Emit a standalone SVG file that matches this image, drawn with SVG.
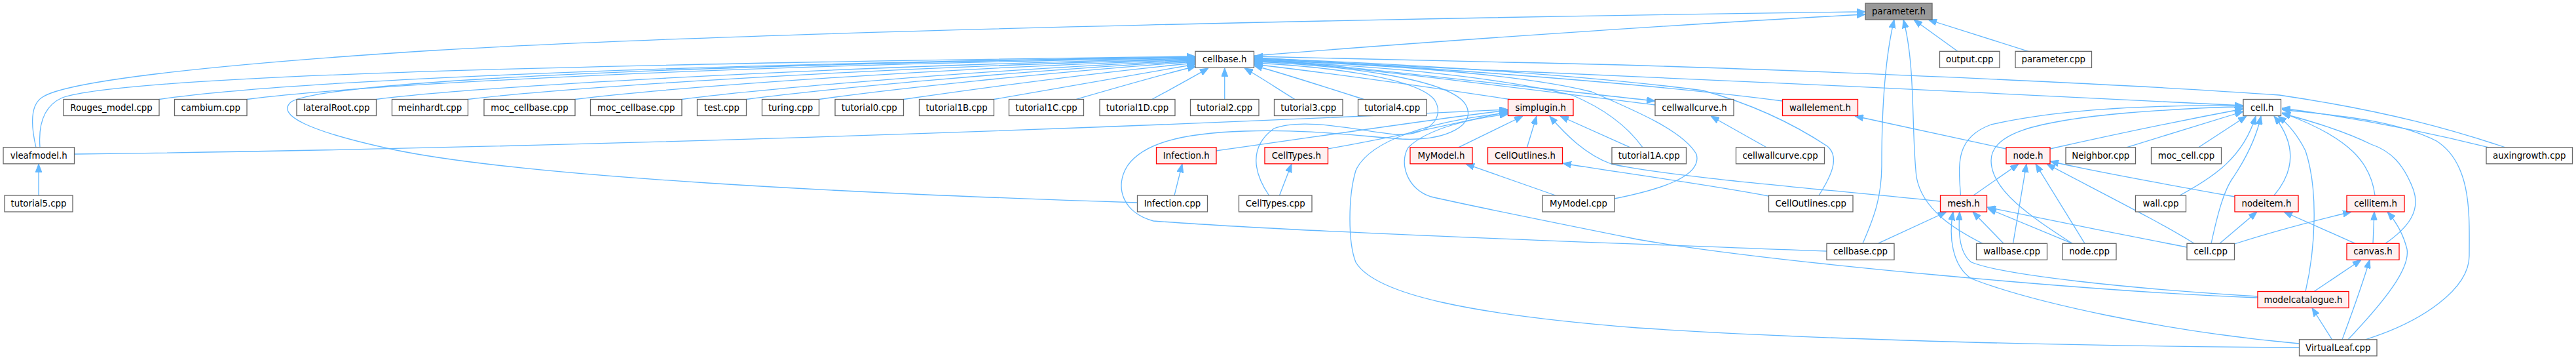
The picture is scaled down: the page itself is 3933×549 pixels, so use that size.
<svg xmlns="http://www.w3.org/2000/svg" width="3933" height="549" viewBox="0 0 3933 549">
<style>
.n rect{fill:#ffffff;stroke:#666666;stroke-width:1.3}
.r rect{fill:#fff0f0;stroke:#ff0000;stroke-width:1.3}
.root rect{fill:#999999;stroke:#666666;stroke-width:1.3}
text{font-family:"DejaVu Sans","Liberation Sans",sans-serif;font-size:13.33px;fill:#000;text-anchor:middle}
#edges path{fill:none;stroke:#63b8ff;stroke-width:1.3;marker-end:url(#a)}
</style>
<defs>
<marker id="a" viewBox="0 0 13 10" refX="13" refY="5" markerUnits="userSpaceOnUse" markerWidth="13" markerHeight="10" orient="auto">
<path d="M0,0 L13,5 L0,10 z" fill="#63b8ff" stroke="#63b8ff" stroke-width="1"/>
</marker>
</defs>
<rect width="3933" height="549" fill="#ffffff"/>
<g id="edges">
<path d="M1914.5,85 C2250,58 2650,32 2848,22"/>
<path d="M55,224.8 C48,195 45,160 65,148 C100,125 300,100 660,77 C1200,45 2300,25 2848,18"/>
<path d="M2989,78.3 L2922,30"/>
<path d="M3097,78.3 L2944,30"/>
<path d="M2844,371.3 C2862,330 2873,300 2873,250 C2873,150 2880,80 2892,30"/>
<path d="M3027,371.3 C2985,350 2935,320 2926,270 C2918,200 2925,100 2906,30"/>
<path d="M243,151.5 C400,128 900,100 1825,87"/>
<path d="M377,151.5 C520,133 1000,102 1825,88"/>
<path d="M574.5,151.5 C700,135 1200,103 1825,89"/>
<path d="M714.4,151.5 C850,135 1300,104 1825,90"/>
<path d="M878,151.5 C1000,136 1400,105 1825,91"/>
<path d="M1041,151.5 C1150,137 1500,106 1825,92"/>
<path d="M1139.5,151.5 C1250,137 1550,108 1825,93"/>
<path d="M1250.5,151.5 C1350,137 1600,110 1825,94"/>
<path d="M1379.5,151.5 C1480,137 1650,113 1825,96"/>
<path d="M1517.5,151.5 C1600,138 1710,118 1825,98"/>
<path d="M1643,151.5 C1700,135 1765,116 1826,101"/>
<path d="M1758.8,151.5 C1790,135 1820,118 1845,104"/>
<path d="M1869.75,151.5 L1869.75,103.8"/>
<path d="M1977,151.5 C1950,135 1925,118 1900,104"/>
<path d="M61,224.8 C58,185 70,160 95,149 C180,120 700,100 1825,86"/>
<path d="M1736.5,309 C1300,295 800,270 600,228 C470,200 420,175 445,155 C500,125 1000,100 1825,87"/>
<path d="M2082.6,151.5 C2020,132 1960,112 1914.5,100"/>
<path d="M2305,151.5 C2150,128 2000,108 1914.5,98"/>
<path d="M1937.5,298 C1915,265 1905,225 1945,196 C1990,178 2080,200 2130,205 C2180,208 2208,180 2190,152 C2160,115 2000,100 1914.5,96"/>
<path d="M2789,383 C2500,372 2000,355 1761,337 C1715,325 1700,285 1722,252 C1745,220 1800,203 1900,200 C2000,197 2070,207 2140,212 C2210,215 2255,190 2238,160 C2215,120 2050,100 1914.5,94"/>
<path d="M2508,224.8 C2490,200 2460,170 2400,145 C2250,110 2050,98 1914.5,93"/>
<path d="M2464.7,303 C2530,290 2600,270 2590,235 C2570,200 2500,170 2430,140 C2300,108 2050,96 1914.5,92"/>
<path d="M2527,160 C2300,132 2050,100 1914.5,91"/>
<path d="M1914.5,89 C2100,105 2350,135 2527,154"/>
<path d="M2721.5,154 C2500,125 2100,97 1914.5,90"/>
<path d="M2777,298 C2795,270 2810,240 2790,223 C2740,190 2680,160 2600,138 C2400,112 2100,95 1914.5,89"/>
<path d="M3425,161 C3200,150 2600,120 2300,108 C2100,100 2000,92 1914.5,88"/>
<path d="M3825,224.8 C3750,200 3650,170 3480,145 C3200,125 2600,100 2300,95 C2150,92 2000,88 1914.5,86"/>
<path d="M113.6,235 C700,228 1500,205 2302.5,167"/>
<path d="M1856.8,230 C2000,210 2200,180 2302.5,168"/>
<path d="M2027.3,227 C2150,205 2250,182 2302.5,170"/>
<path d="M3510.5,530 C3200,528 2800,520 2500,500 C2250,480 2100,450 2070,400 C2058,370 2058,300 2070,260 C2090,215 2180,185 2302.5,172"/>
<path d="M3447,454 C3200,445 2700,400 2500,365 C2350,335 2250,315 2185,300 C2150,290 2135,250 2150,225 C2180,195 2250,180 2302.5,174"/>
<path d="M2962.5,307 C2800,290 2550,270 2460,250 C2420,235 2390,205 2366,177"/>
<path d="M2226.7,224.8 L2325,177"/>
<path d="M2331.5,224.8 L2346,177"/>
<path d="M2489,224.8 L2382,177"/>
<path d="M2375,298 L2238,250"/>
<path d="M2700.5,299 C2600,280 2450,260 2386,249"/>
<path d="M1793,298 L1805,250"/>
<path d="M1953.5,298 L1972,250"/>
<path d="M59,298 L59,250"/>
<path d="M2697,224.8 L2612,177"/>
<path d="M3063,227 L2832,177"/>
<path d="M3130,227 C3250,200 3350,180 3425,166"/>
<path d="M3246.7,224.8 L3425,170"/>
<path d="M3356.7,224.8 L3430,177"/>
<path d="M3328,298 C3380,270 3425,240 3444,177"/>
<path d="M3376,371.3 C3385,330 3395,290 3410,270 C3430,240 3445,210 3452,177"/>
<path d="M3472,298 C3500,265 3510,225 3472,177"/>
<path d="M3520,444.5 C3535,380 3540,290 3520,230 C3510,210 3495,190 3478,177"/>
<path d="M3626,298 C3620,250 3590,210 3484,172"/>
<path d="M3642,371.3 C3680,345 3695,320 3685,290 C3670,250 3650,230 3620,220 C3580,200 3530,185 3484,173"/>
<path d="M3611.5,517.8 C3700,490 3770,440 3770,390 C3770,330 3775,250 3720,215 C3650,180 3550,175 3484,167"/>
<path d="M3800,224.8 C3700,200 3600,180 3484,165"/>
<path d="M3389,371.3 L3446,323"/>
<path d="M3596,371.3 L3487,323"/>
<path d="M3411.6,372 C3480,350 3540,335 3590,323"/>
<path d="M3623,371.3 L3625,323"/>
<path d="M3585,517.8 C3640,460 3680,410 3675,380 C3670,360 3660,340 3645,323"/>
<path d="M3533,444.5 L3605,396.3"/>
<path d="M3576,517.8 C3590,480 3605,440 3618,396.3"/>
<path d="M3560.5,517.8 L3530,469.5"/>
<path d="M2867,371.3 L2972,323"/>
<path d="M3059,371.3 L3012,323"/>
<path d="M3164,371.3 L3035,318"/>
<path d="M3339,377 C3250,360 3100,330 3034,316"/>
<path d="M3447,452 C3250,440 3060,420 3010,400 C2990,385 2990,350 2992,323"/>
<path d="M3510.5,524 C3300,505 3100,460 3010,425 C2980,405 2975,360 2982,323"/>
<path d="M3013,298 L3082,250"/>
<path d="M3073.5,371.3 L3094,250"/>
<path d="M3183,371.3 L3108,250"/>
<path d="M3350,371.3 C3300,340 3220,300 3125,250"/>
<path d="M3412,300 C3300,280 3200,262 3130,246"/>
<path d="M2993.5,298 C2990,250 2985,210 3040,190 C3150,165 3300,160 3425,161"/>
<path d="M3164,371.3 C3100,330 3040,290 3040,245 C3040,205 3100,185 3250,172 C3330,166 3400,163 3425,163"/>
</g>
<g id="parameter_h" class="root"><rect x="2848" y="5" width="102" height="25"/><text x="2899" y="22">parameter.h</text></g>
<g id="cellbase_h" class="n"><rect x="1825" y="78.3" width="89.5" height="25"/><text x="1869.75" y="95.3">cellbase.h</text></g>
<g id="output_cpp" class="n"><rect x="2961.5" y="78.3" width="91.5" height="25"/><text x="3007.25" y="95.3">output.cpp</text></g>
<g id="parameter_cpp" class="n"><rect x="3077" y="78.3" width="116.5" height="25"/><text x="3135.25" y="95.3">parameter.cpp</text></g>
<g id="Rouges_model_cpp" class="n"><rect x="97" y="151.5" width="146" height="25"/><text x="170" y="168.5">Rouges_model.cpp</text></g>
<g id="cambium_cpp" class="n"><rect x="266.5" y="151.5" width="110.5" height="25"/><text x="321.75" y="168.5">cambium.cpp</text></g>
<g id="lateralRoot_cpp" class="n"><rect x="453" y="151.5" width="121.5" height="25"/><text x="513.75" y="168.5">lateralRoot.cpp</text></g>
<g id="meinhardt_cpp" class="n"><rect x="598.5" y="151.5" width="116" height="25"/><text x="656.5" y="168.5">meinhardt.cpp</text></g>
<g id="moc_cellbase_cpp_1" class="n"><rect x="739" y="151.5" width="139" height="25"/><text x="808.5" y="168.5">moc_cellbase.cpp</text></g>
<g id="moc_cellbase_cpp_2" class="n"><rect x="901.5" y="151.5" width="139.5" height="25"/><text x="971.25" y="168.5">moc_cellbase.cpp</text></g>
<g id="test_cpp" class="n"><rect x="1064.5" y="151.5" width="75" height="25"/><text x="1102" y="168.5">test.cpp</text></g>
<g id="turing_cpp" class="n"><rect x="1163.5" y="151.5" width="87" height="25"/><text x="1207" y="168.5">turing.cpp</text></g>
<g id="tutorial0_cpp" class="n"><rect x="1275" y="151.5" width="104.5" height="25"/><text x="1327.25" y="168.5">tutorial0.cpp</text></g>
<g id="tutorial1B_cpp" class="n"><rect x="1403.5" y="151.5" width="114" height="25"/><text x="1460.5" y="168.5">tutorial1B.cpp</text></g>
<g id="tutorial1C_cpp" class="n"><rect x="1540.5" y="151.5" width="114" height="25"/><text x="1597.5" y="168.5">tutorial1C.cpp</text></g>
<g id="tutorial1D_cpp" class="n"><rect x="1679" y="151.5" width="115" height="25"/><text x="1736.5" y="168.5">tutorial1D.cpp</text></g>
<g id="tutorial2_cpp" class="n"><rect x="1817.5" y="151.5" width="104.5" height="25"/><text x="1869.75" y="168.5">tutorial2.cpp</text></g>
<g id="tutorial3_cpp" class="n"><rect x="1945.5" y="151.5" width="104.5" height="25"/><text x="1997.75" y="168.5">tutorial3.cpp</text></g>
<g id="tutorial4_cpp" class="n"><rect x="2073.5" y="151.5" width="104.5" height="25"/><text x="2125.75" y="168.5">tutorial4.cpp</text></g>
<g id="simplugin_h" class="r"><rect x="2302.5" y="151.5" width="99.5" height="25"/><text x="2352.25" y="168.5">simplugin.h</text></g>
<g id="cellwallcurve_h" class="n"><rect x="2527" y="151.5" width="120" height="25"/><text x="2587" y="168.5">cellwallcurve.h</text></g>
<g id="wallelement_h" class="r"><rect x="2721.5" y="151.5" width="115" height="25"/><text x="2779" y="168.5">wallelement.h</text></g>
<g id="cell_h" class="n"><rect x="3425" y="151.5" width="57.5" height="25"/><text x="3453.75" y="168.5">cell.h</text></g>
<g id="vleafmodel_h" class="n"><rect x="5" y="224.8" width="108.5" height="25"/><text x="59.25" y="241.8">vleafmodel.h</text></g>
<g id="Infection_h" class="r"><rect x="1765.5" y="224.8" width="91.5" height="25"/><text x="1811.25" y="241.8">Infection.h</text></g>
<g id="CellTypes_h" class="r"><rect x="1931" y="224.8" width="96.5" height="25"/><text x="1979.25" y="241.8">CellTypes.h</text></g>
<g id="MyModel_h" class="r"><rect x="2153" y="224.8" width="95" height="25"/><text x="2200.5" y="241.8">MyModel.h</text></g>
<g id="CellOutlines_h" class="r"><rect x="2271.5" y="224.8" width="114" height="25"/><text x="2328.5" y="241.8">CellOutlines.h</text></g>
<g id="tutorial1A_cpp" class="n"><rect x="2461" y="224.8" width="113.5" height="25"/><text x="2517.75" y="241.8">tutorial1A.cpp</text></g>
<g id="cellwallcurve_cpp" class="n"><rect x="2650.5" y="224.8" width="135" height="25"/><text x="2718" y="241.8">cellwallcurve.cpp</text></g>
<g id="node_h" class="r"><rect x="3063" y="224.8" width="67" height="25"/><text x="3096.5" y="241.8">node.h</text></g>
<g id="Neighbor_cpp" class="n"><rect x="3154" y="224.8" width="106.5" height="25"/><text x="3207.25" y="241.8">Neighbor.cpp</text></g>
<g id="moc_cell_cpp" class="n"><rect x="3284.5" y="224.8" width="107" height="25"/><text x="3338" y="241.8">moc_cell.cpp</text></g>
<g id="auxingrowth_cpp" class="n"><rect x="3796" y="224.8" width="131.5" height="25"/><text x="3861.75" y="241.8">auxingrowth.cpp</text></g>
<g id="tutorial5_cpp" class="n"><rect x="7" y="298" width="104" height="25"/><text x="59" y="315">tutorial5.cpp</text></g>
<g id="Infection_cpp" class="n"><rect x="1736.5" y="298" width="107" height="25"/><text x="1790" y="315">Infection.cpp</text></g>
<g id="CellTypes_cpp" class="n"><rect x="1891.5" y="298" width="111.5" height="25"/><text x="1947.25" y="315">CellTypes.cpp</text></g>
<g id="MyModel_cpp" class="n"><rect x="2355" y="298" width="110" height="25"/><text x="2410" y="315">MyModel.cpp</text></g>
<g id="CellOutlines_cpp" class="n"><rect x="2700.5" y="298" width="128.5" height="25"/><text x="2764.75" y="315">CellOutlines.cpp</text></g>
<g id="mesh_h" class="r"><rect x="2962.5" y="298" width="71" height="25"/><text x="2998" y="315">mesh.h</text></g>
<g id="wall_cpp" class="n"><rect x="3260.5" y="298" width="77" height="25"/><text x="3299" y="315">wall.cpp</text></g>
<g id="nodeitem_h" class="r"><rect x="3412" y="298" width="97" height="25"/><text x="3460.5" y="315">nodeitem.h</text></g>
<g id="cellitem_h" class="r"><rect x="3583" y="298" width="88" height="25"/><text x="3627" y="315">cellitem.h</text></g>
<g id="cellbase_cpp" class="n"><rect x="2789" y="371.3" width="103" height="25"/><text x="2840.5" y="388.3">cellbase.cpp</text></g>
<g id="wallbase_cpp" class="n"><rect x="3017.5" y="371.3" width="108" height="25"/><text x="3071.5" y="388.3">wallbase.cpp</text></g>
<g id="node_cpp" class="n"><rect x="3149" y="371.3" width="82" height="25"/><text x="3190" y="388.3">node.cpp</text></g>
<g id="cell_cpp" class="n"><rect x="3339" y="371.3" width="72.5" height="25"/><text x="3375.25" y="388.3">cell.cpp</text></g>
<g id="canvas_h" class="r"><rect x="3583" y="371.3" width="80" height="25"/><text x="3623" y="388.3">canvas.h</text></g>
<g id="modelcatalogue_h" class="r"><rect x="3447" y="444.5" width="139" height="25"/><text x="3516.5" y="461.5">modelcatalogue.h</text></g>
<g id="VirtualLeaf_cpp" class="n"><rect x="3510.5" y="517.8" width="118.5" height="25"/><text x="3569.75" y="534.8">VirtualLeaf.cpp</text></g>
</svg>
